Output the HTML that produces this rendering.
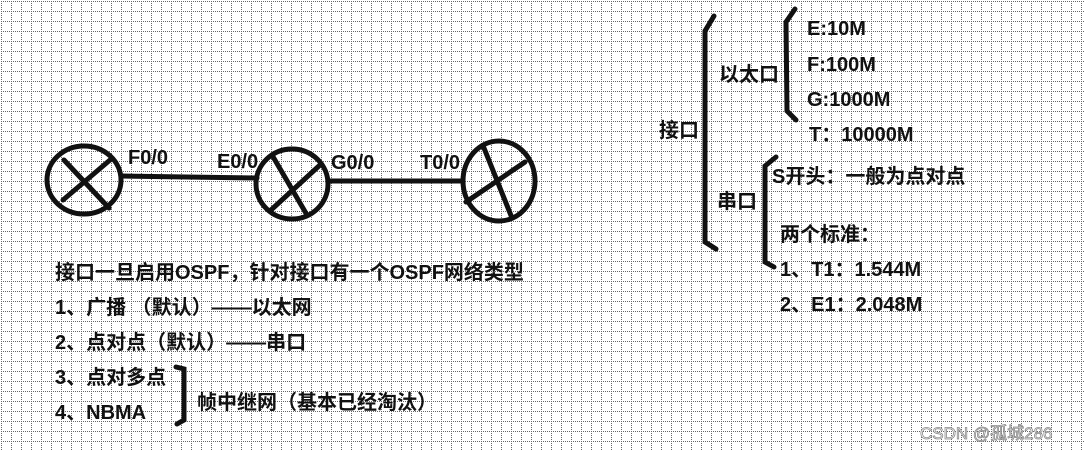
<!DOCTYPE html>
<html><head><meta charset="utf-8"><style>
html,body{margin:0;padding:0;background:#fff;}
svg{display:block;}
text{font-family:"Liberation Sans","Noto Sans CJK SC",sans-serif;font-weight:bold;font-size:20px;fill:#111;}
</style></head><body>
<svg width="1084" height="451" viewBox="0 0 1084 451" xmlns="http://www.w3.org/2000/svg">
<defs>
<pattern id="g" width="10" height="10" patternUnits="userSpaceOnUse" x="1" y="1">
<line x1="0.5" y1="0" x2="0.5" y2="10" stroke="#666" stroke-width="1" stroke-dasharray="1,1"/>
<line x1="0" y1="0.5" x2="10" y2="0.5" stroke="#666" stroke-width="1" stroke-dasharray="1,1"/>
</pattern>
</defs>
<rect width="1084" height="451" fill="#fff"/>
<rect width="1084" height="451" fill="url(#g)"/>
<g stroke="#111" stroke-width="5" fill="none" stroke-linecap="round">
<ellipse cx="84" cy="180" rx="37" ry="34"/>
<line x1="64" y1="160" x2="109" y2="208"/><line x1="110" y1="160" x2="63" y2="200"/>
<ellipse cx="292" cy="184" rx="36" ry="35"/>
<line x1="272" y1="155" x2="307" y2="215"/><line x1="320" y1="165" x2="271" y2="210"/>
<ellipse cx="499" cy="181" rx="36" ry="40"/>
<line x1="484" y1="148" x2="512" y2="218"/><line x1="525" y1="162" x2="466" y2="202"/>
<line x1="122" y1="176" x2="257" y2="178"/>
<line x1="328" y1="181" x2="463" y2="181"/>
<polyline points="714,16 705,31 705,242 716,249"/>
<polyline points="795,9 786,22 787,111 796,120"/>
<polyline points="776,157 765,166 765,262 774,267"/>
<polyline points="176,367 184,369 184,420 177,424"/>
</g>
<text x="128" y="164">F0/0</text>
<text x="217" y="168">E0/0</text>
<text x="331" y="169">G0/0</text>
<text x="420" y="169">T0/0</text>
<text x="55" y="279">接口一旦启用OSPF，针对接口有一个OSPF网络类型</text>
<text x="55" y="314">1、广播 （默认）——以太网</text>
<text x="55" y="349">2、点对点（默认）——串口</text>
<text x="55" y="384">3、点对多点</text>
<text x="55" y="419">4、NBMA</text>
<text x="197" y="409">帧中继网（基本已经淘汰）</text>
<text x="659" y="137">接口</text>
<text x="719" y="81">以太口</text>
<text x="807" y="35">E:10M</text>
<text x="807" y="71">F:100M</text>
<text x="807" y="106">G:1000M</text>
<text x="809" y="141">T：10000M</text>
<text x="772" y="183">S开头：一般为点对点</text>
<text x="717" y="208">串口</text>
<text x="780" y="241">两个标准：</text>
<text x="780" y="276">1、T1：1.544M</text>
<text x="780" y="311">2、E1：2.048M</text>
<text x="920" y="439" style="font-weight:normal;font-size:17px;fill:#fff;stroke:#888;stroke-width:0.8">CSDN @孤城286</text>
</svg>
</body></html>
